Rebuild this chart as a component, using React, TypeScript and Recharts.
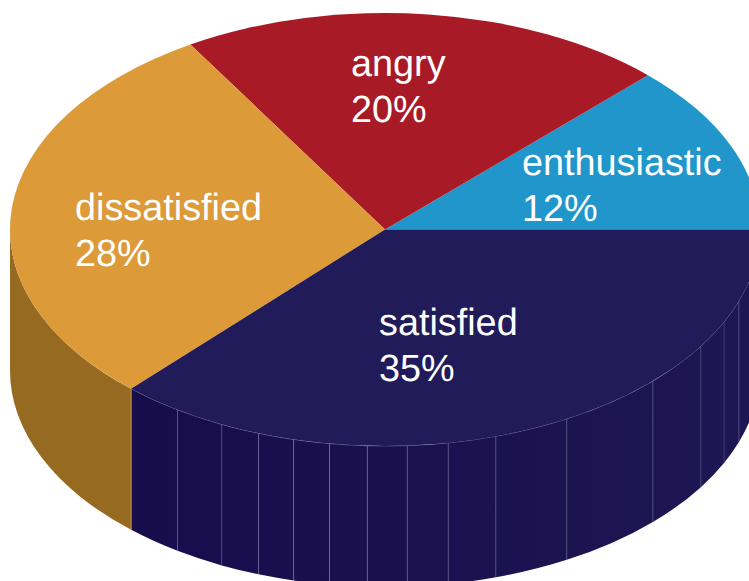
import { Pie, PieChart } from "recharts";

const categories = ["enthusiastic", "angry", "dissatisfied", "satisfied"];
const shares = [12, 20, 28, 35];
const topColors = ["#2196CB", "#A91A27", "#DC9A38", "#211B5A"];

// side wall pieces in degrees, going round the front from the left edge
const wallSpans = [47.4, 9, 7.8, 6.1, 5.6, 5.6, 5.8, 6.1, 6.3, 7.5, 11.8, 16.6, 11.8, 7.3, 6, 19.3];

const topData = categories.map((name, i) => ({ name, value: shares[i], fill: topColors[i] }));
const wallData = wallSpans.map((value, i) => ({
  name: `wall${i}`,
  value,
  fill: i === 0 ? "#966A20" : "url(#wallFill)",
}));

const CX = 385;
const CY = 229.5;
const RX = 375;
const RY = 216.5;
const DEPTH = 141;

// how strong each seam in the wall shows, dim on the far left
const SEAM_OPACITY = [0, 0.6, 0.2, 0.25, 0.4, 0.45, 0.45, 0.4, 0.35, 0.35, 0.4, 0.3, 0.4, 0.3, 0.3, 0.35];

const LABEL_POS = [
  { x: 522, y: 175 },
  { x: 351, y: 76 },
  { x: 75, y: 220 },
  { x: 379, y: 335 },
];

const point = (deg: number, dy = 0) => {
  const r = (deg * Math.PI) / 180;
  return { x: CX + RX * Math.cos(r), y: CY - RY * Math.sin(r) + dy };
};

function TopSlice(props: any) {
  const a = point(props.startAngle);
  const b = point(props.endAngle);
  const large = props.endAngle - props.startAngle > 180 ? 1 : 0;
  return (
    <path
      d={`M${CX},${CY} L${a.x},${a.y} A${RX},${RY} 0 ${large} 0 ${b.x},${b.y} Z`}
      fill={props.fill}
      stroke="none"
    />
  );
}

function WallSlice(props: any) {
  const a = point(props.startAngle);
  const b = point(props.endAngle);
  const a2 = point(props.startAngle, DEPTH);
  const b2 = point(props.endAngle, DEPTH);
  const idx = props.index ?? 0;
  return (
    <g>
      <path
        d={`M${a.x},${a.y} L${a2.x},${a2.y} A${RX},${RY} 0 0 0 ${b2.x},${b2.y} L${b.x},${b.y} A${RX},${RY} 0 0 1 ${a.x},${a.y} Z`}
        fill={props.fill}
        stroke="none"
      />
      {idx > 0 && (
        <line
          x1={a.x}
          y1={a.y}
          x2={a2.x}
          y2={a2.y}
          stroke={idx === 1 ? "#E8C070" : "#8E89B0"}
          strokeOpacity={SEAM_OPACITY[idx]}
          strokeWidth={1}
        />
      )}
      {idx > 0 && (
        <path
          d={`M${a.x},${a.y} A${RX},${RY} 0 0 0 ${b.x},${b.y}`}
          fill="none"
          stroke="#8E89B0"
          strokeOpacity={0.5}
          strokeWidth={1}
        />
      )}
    </g>
  );
}

function SliceLabel(props: any) {
  const pos = LABEL_POS[props.index];
  return (
    <text
      fontFamily="'Liberation Sans', Arial, sans-serif"
      fontSize={37.8}
      fill="#FFFFFF"
      textRendering="geometricPrecision"
    >
      <tspan x={pos.x} y={pos.y}>{categories[props.index]}</tspan>
      <tspan x={pos.x} y={pos.y + 46}>{`${shares[props.index]}%`}</tspan>
    </text>
  );
}

export default function App() {
  return (
    <div style={{ position: "absolute", left: 0, top: 0, width: 749, height: 581, overflow: "hidden", background: "#fff" }}>
      <PieChart width={749} height={581} margin={{ top: 0, right: 0, bottom: 0, left: 0 }}>
        <defs>
          <linearGradient id="wallFill" gradientUnits="userSpaceOnUse" x1={130} y1={0} x2={749} y2={0}>
            <stop offset="0" stopColor="#170C4C" />
            <stop offset="1" stopColor="#1F1654" />
          </linearGradient>
        </defs>
        <Pie
          data={wallData}
          dataKey="value"
          cx={CX}
          cy={CY}
          outerRadius={RX}
          startAngle={180}
          endAngle={360}
          stroke="none"
          shape={WallSlice}
          isAnimationActive={false}
        />
        <Pie
          data={topData}
          dataKey="value"
          cx={CX}
          cy={CY}
          outerRadius={RX}
          startAngle={0}
          endAngle={360}
          stroke="none"
          shape={TopSlice}
          label={SliceLabel}
          labelLine={false}
          isAnimationActive={false}
        />
      </PieChart>
    </div>
  );
}
